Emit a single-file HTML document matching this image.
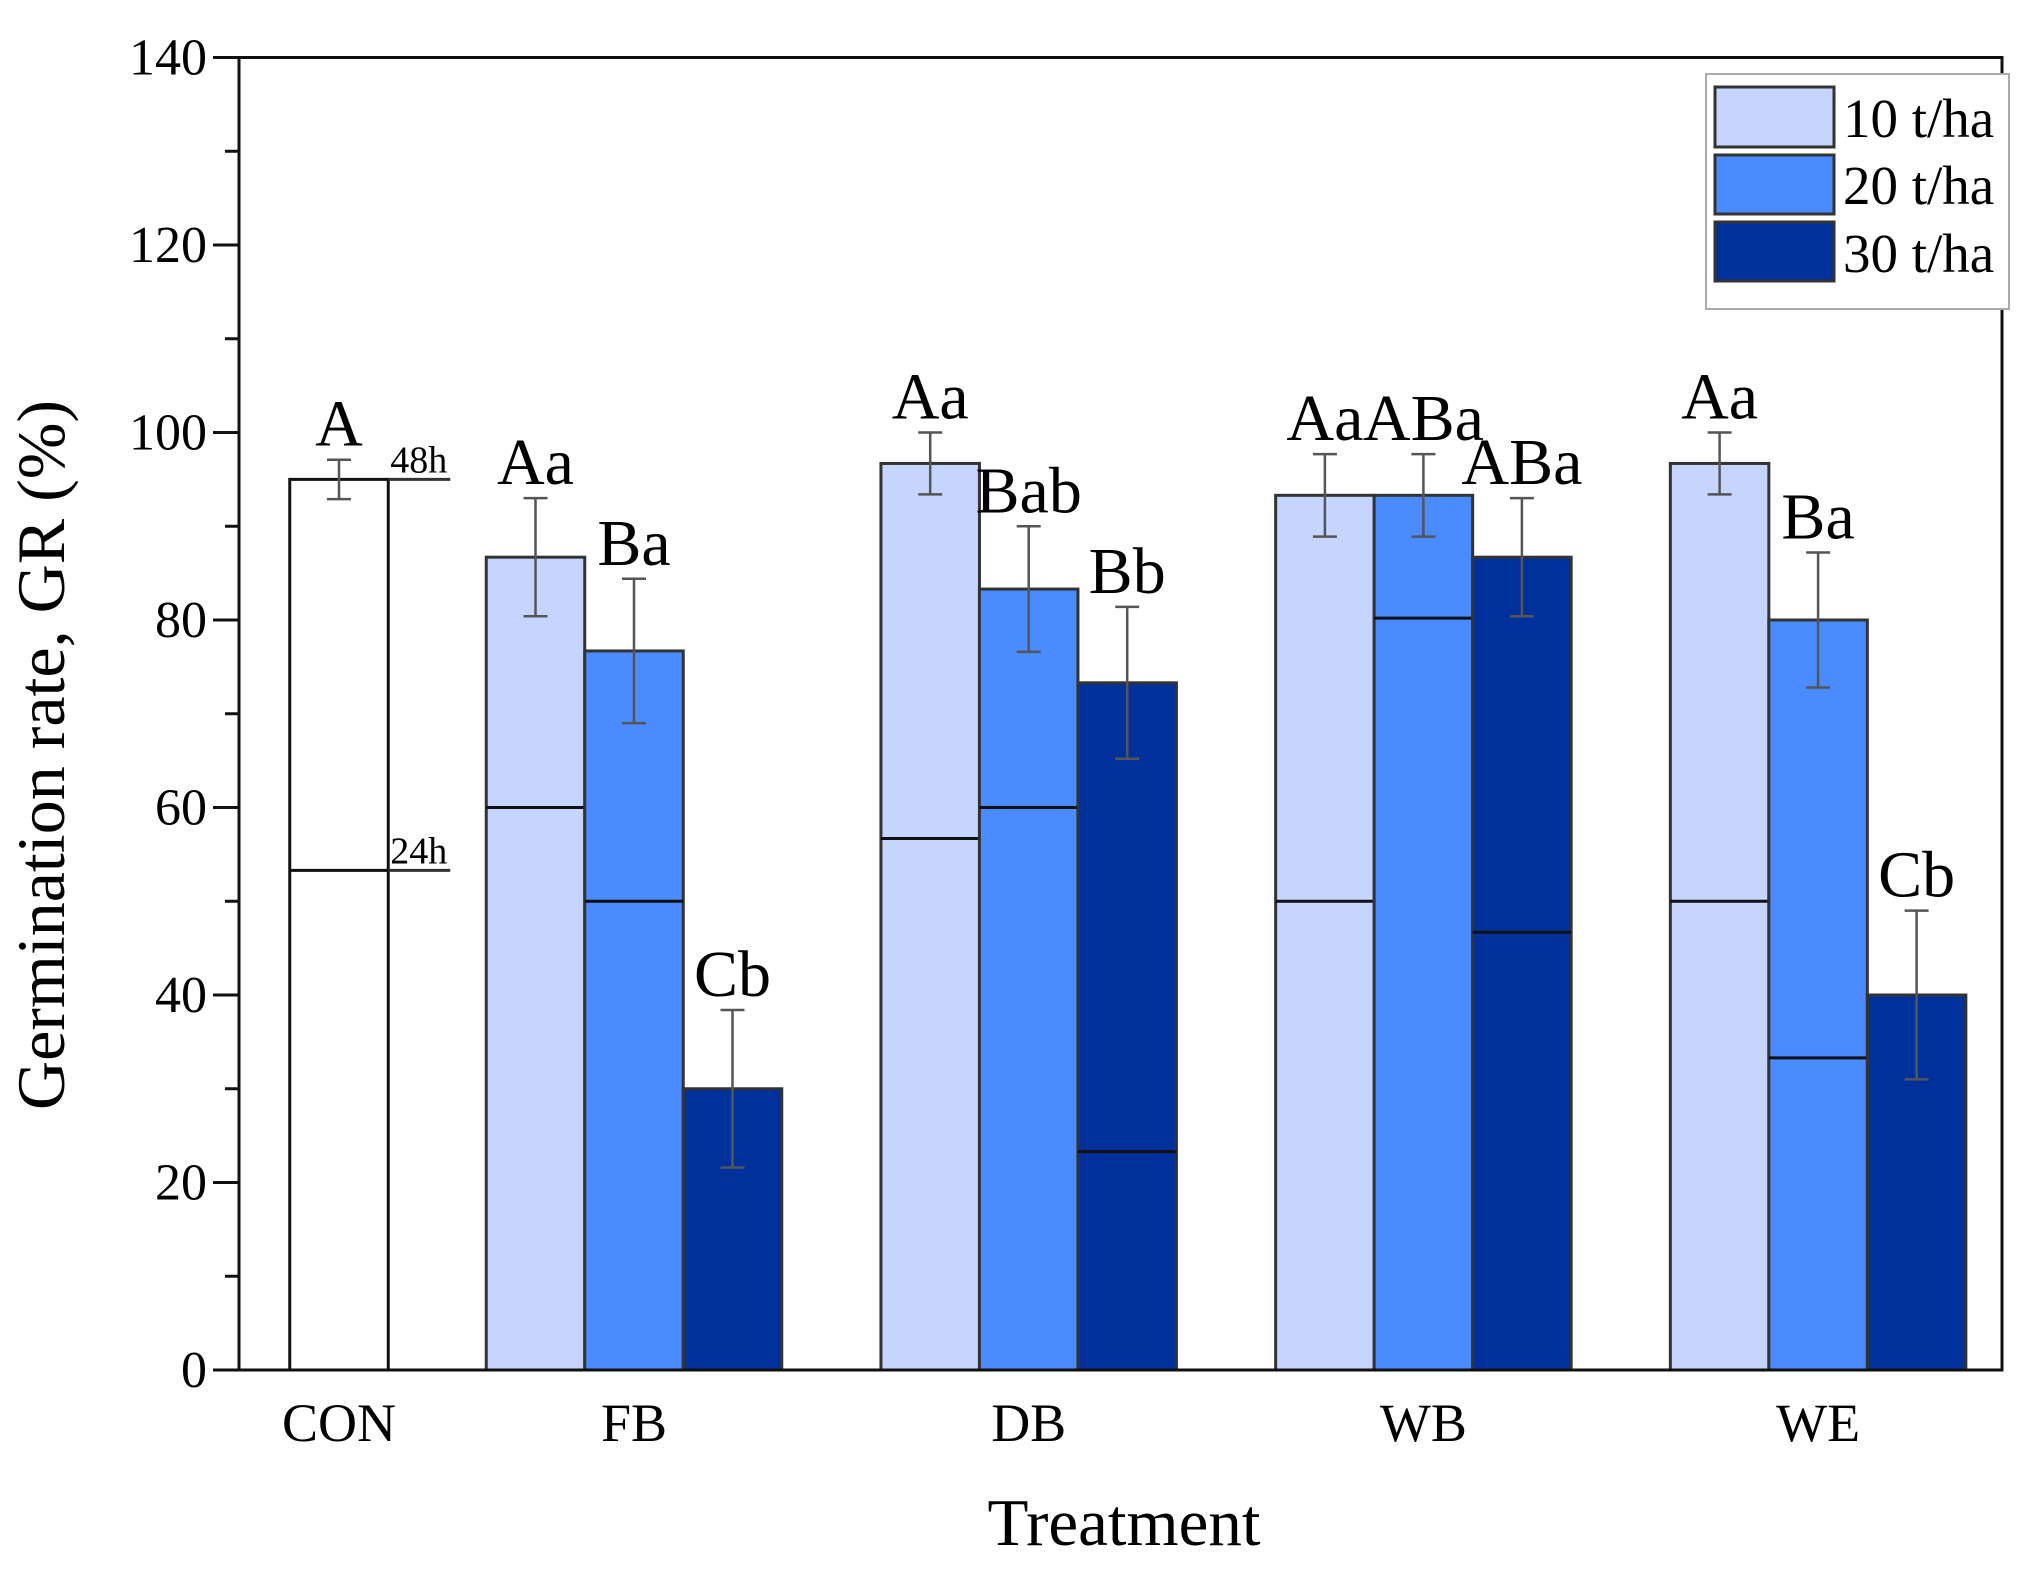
<!DOCTYPE html>
<html><head><meta charset="utf-8"><style>body{margin:0;background:#fff}svg{display:block}text{font-family:"Liberation Serif",serif}</style></head>
<body>
<svg id="chart" width="2040" height="1591" viewBox="0 0 2040 1591" xmlns="http://www.w3.org/2000/svg">
<g id="bars"></g>
<g id="axes"></g>
<text x="1124" y="1545" font-size="67" text-anchor="middle">Treatment</text>
<text transform="translate(64,755) rotate(-90)" font-size="68" text-anchor="middle">Germination rate, GR (%)</text>
<g>
<rect x="1706" y="74" width="303" height="235" fill="#fff" stroke="#aaa" stroke-width="2"/>
<rect x="1715" y="87" width="119" height="60" fill="#c5d5fd" stroke="#333" stroke-width="3"/>
<text x="1843" y="137" font-size="55">10 t/ha</text>
<rect x="1715" y="155" width="119" height="59" fill="#4a8bff" stroke="#333" stroke-width="3"/>
<text x="1843" y="204" font-size="55">20 t/ha</text>
<rect x="1715" y="222" width="119" height="59" fill="#00309c" stroke="#333" stroke-width="3"/>
<text x="1843" y="272" font-size="55">30 t/ha</text>
</g>
</svg>
<script>
const categories = ["CON","FB","DB","WB","WE"];
const totals10 = [95, 86.7, 96.7, 93.3, 96.7];
const inner10 = [53.3, 60, 56.7, 50, 50];
const err10 = [2.1, 6.3, 3.3, 4.4, 3.3];
const labels10 = ["A","Aa","Aa","Aa","Aa"];
const totals20 = [null, 76.7, 83.3, 93.3, 80];
const inner20 = [null, 50, 60, 80.2, 33.3];
const err20 = [null, 7.7, 6.7, 4.4, 7.2];
const labels20 = [null,"Ba","Bab","ABa","Ba"];
const totals30 = [null, 30, 73.3, 86.7, 40];
const inner30 = [null, null, 23.3, 46.7, null];
const err30 = [null, 8.4, 8.1, 6.3, 9];
const labels30 = [null,"Cb","Bb","ABa","Cb"];
const yTicks = [0,20,40,60,80,100,120,140];

const NS="http://www.w3.org/2000/svg";
const L=239,R=2002,T=57.5,B=1370,ymax=140;
const y=v=>B-v*(B-T)/ymax;
const gx=i=> i===0 ? 339 : 634+(i-1)*394.7;
const bw=98.5;
function mk(tag,attrs,parent){const e=document.createElementNS(NS,tag);for(const k in attrs)e.setAttribute(k,attrs[k]);parent.appendChild(e);return e;}
const bars=document.getElementById('bars'), axes=document.getElementById('axes');
const series=[
 {t:totals10,inn:inner10,e:err10,lab:labels10,c:"#c5d5fd",name:"10"},
 {t:totals20,inn:inner20,e:err20,lab:labels20,c:"#4a8bff",name:"20"},
 {t:totals30,inn:inner30,e:err30,lab:labels30,c:"#00309c",name:"30"}];
categories.forEach((cat,i)=>{
  series.forEach((s,k)=>{
    if(s.t[i]==null)return;
    let cx = i===0 ? gx(0) : gx(i)+(k-1)*bw;
    let fill = i===0 ? "#fff" : s.c;
    const r=mk('rect',{x:cx-bw/2,y:y(s.t[i]),width:bw,height:B-y(s.t[i]),fill:fill,stroke:i===0?"#111":"#333","stroke-width":3},bars);
    
    
    if(s.inn[i]!=null){
      const ln=mk('line',{x1:cx-bw/2,x2:cx+bw/2,y1:y(s.inn[i]),y2:y(s.inn[i]),stroke:"#111","stroke-width":3},bars);
      
      
    }
    const hi=s.t[i]+s.e[i], lo=s.t[i]-s.e[i];
    const eg=mk('g',{stroke:"#555","stroke-width":2.5},bars);
    
    
    mk('line',{x1:cx,x2:cx,y1:y(hi),y2:y(lo)},eg);
    mk('line',{x1:cx-12,x2:cx+12,y1:y(hi),y2:y(hi)},eg);
    mk('line',{x1:cx-12,x2:cx+12,y1:y(lo),y2:y(lo)},eg);
    const tx=mk('text',{x:cx,y:y(hi)-14,"font-size":66,"text-anchor":"middle"},bars);
    tx.textContent=s.lab[i];
    
    
  });
  const xl=mk('text',{x:gx(i),y:1441,"font-size":54,"text-anchor":"middle"},axes);
  xl.textContent=cat;
  
  
});
[[totals10[0],"48h"],[inner10[0],"24h"]].forEach(([v,t])=>{
  const ln=mk('line',{x1:gx(0)+bw/2,x2:gx(0)+bw/2+62,y1:y(v),y2:y(v),stroke:"#333","stroke-width":3},bars);
  
  
  const tx=mk('text',{x:gx(0)+bw/2+2,y:y(v)-7,"font-size":38},bars);
  tx.textContent=t;
  
  
});
const frame=mk('rect',{x:L,y:T,width:R-L,height:B-T,fill:"none",stroke:"#111","stroke-width":3},axes);


for(let v=0;v<=ymax;v+=10){
  const major=v%20===0;
  const t=mk('line',{x1:L-(major?26:14),x2:L,y1:y(v),y2:y(v),stroke:"#111","stroke-width":3},axes);
  
  
}
yTicks.forEach(v=>{
  const tx=mk('text',{x:L-32,y:y(v)+17,"font-size":52,"text-anchor":"end"},axes);
  tx.textContent=v;
  
  
});
</script>
</body></html>
